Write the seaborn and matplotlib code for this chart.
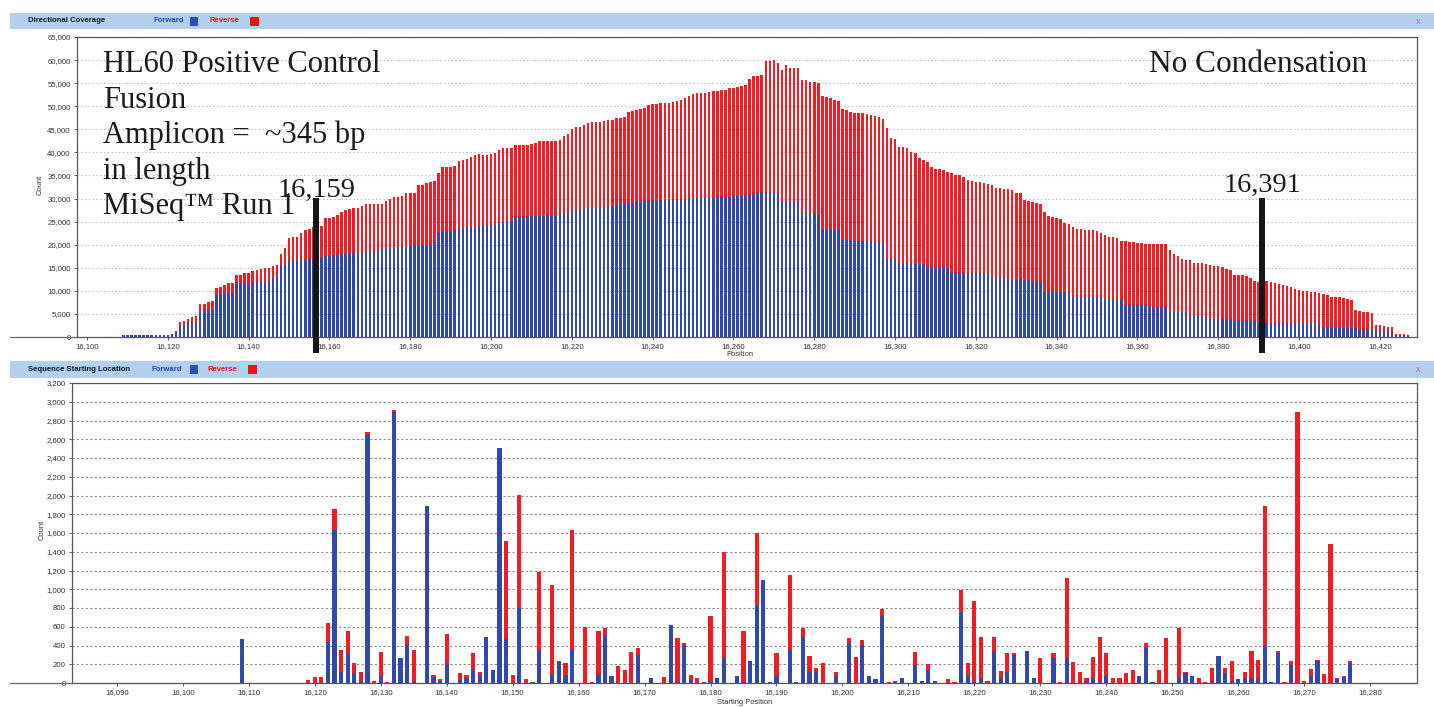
import matplotlib
matplotlib.use("Agg")
import matplotlib.pyplot as plt
from matplotlib.patches import Rectangle
from matplotlib.lines import Line2D
import pandas as pd
import seaborn as sns

# ---------------------------------------------------------------------------
# Directional coverage: counts (thousands) per position, 16,109 .. 16,427
# ---------------------------------------------------------------------------
cov_start = 16109
cov_total_k = [
    0.35, 0.40, 0.40, 0.45, 0.40, 0.40, 0.45, 0.40, 0.40, 0.35, 0.40, 0.45, 0.60,
    1.3, 3.3, 3.5, 4.0, 4.3, 4.5, 7.1, 7.1, 7.6, 7.7,
    10.7, 10.8, 11.3, 11.6, 11.6, 13.4, 13.5, 13.8, 13.9, 14.3,
    14.5, 14.7, 14.9, 15.0, 15.3, 15.7, 18.0, 19.2, 21.4, 21.6,
    21.6, 22.6, 23.2, 23.4, 23.9, 24.0, 24.0, 25.7, 25.7, 26.1,
    26.4, 27.1, 27.5, 27.7, 27.9, 27.9, 28.4, 28.8, 28.8, 28.8,
    28.8, 28.9, 29.5, 30.0, 30.4, 30.4, 30.5, 31.1, 31.1, 31.2,
    32.9, 33.0, 33.4, 33.6, 33.8, 35.5, 36.8, 36.9, 36.9, 37.0,
    38.2, 38.3, 38.5, 38.9, 39.4, 39.6, 39.4, 39.4, 39.6, 39.9,
    40.6, 40.9, 41.0, 41.0, 41.6, 41.6, 41.6, 41.6, 41.9, 42.1,
    42.5, 42.5, 42.5, 42.5, 42.5, 42.7, 43.5, 44.0, 45.0, 45.4,
    45.5, 45.9, 46.3, 46.5, 46.6, 46.6, 46.9, 47.0, 47.1, 47.4,
    47.5, 47.7, 48.8, 48.9, 49.2, 49.4, 49.7, 50.3, 50.5, 50.5,
    50.6, 50.6, 50.8, 51.0, 51.2, 51.3, 51.7, 52.2, 52.6, 52.8,
    52.9, 52.9, 53.1, 53.2, 53.3, 53.5, 53.6, 53.9, 53.9, 54.1,
    54.4, 54.6,
    56.0, 56.6, 56.6, 56.8, 59.9, 59.9, 60.0, 59.4,
    57.8, 58.9, 58.2, 58.2, 58.2, 55.7, 55.7, 55.3, 55.3, 55.1,
    52.3, 52.1, 51.7, 51.3, 51.2, 49.3, 49.2, 48.8, 48.6, 48.6,
    48.6, 48.4, 48.1, 47.9, 47.6, 47.2, 45.2, 43.2, 43.0, 41.1,
    41.1, 40.9, 40.1, 39.8, 38.7, 38.3, 38.0, 36.8, 36.5, 36.3,
    36.2, 35.8, 35.5, 35.1, 35.0, 34.7, 34.0, 33.8, 33.6, 33.6,
    33.4, 33.1, 32.9, 32.2, 32.2, 32.1, 32.0, 31.8, 31.3, 31.2,
    29.7, 29.5, 29.3, 29.0, 28.8, 27.1, 26.2, 26.1, 25.7, 25.5,
    24.8, 24.5, 23.9, 23.4, 23.3, 23.2,
    23.2, 23.2, 23.0, 22.6, 22.1, 21.7, 21.7, 21.4, 20.9, 20.9,
    20.6, 20.6, 20.4, 20.3, 20.1, 20.1, 20.1, 20.1, 20.1, 20.1,
    18.8, 18.0, 17.5, 17.0, 16.7, 16.6, 16.1, 16.0, 16.0, 15.8,
    15.6, 15.4, 15.4, 15.1, 14.7, 14.5, 13.4, 13.4, 13.4, 13.2,
    12.7, 12.2, 12.0, 12.2, 12.2, 12.0, 11.8, 11.5, 11.3, 11.1,
    10.8, 10.5, 10.2, 10.0, 10.0, 9.8, 9.8, 9.6, 9.3, 9.1,
    8.7, 8.7, 8.7, 8.5, 8.2, 8.0, 5.8, 5.6, 5.5, 5.5,
    5.3, 2.6, 2.6, 2.4, 2.2, 2.1, 0.6, 0.6, 0.6, 0.4,
]
cov_forward_k = [
    0.30, 0.35, 0.35, 0.40, 0.35, 0.35, 0.40, 0.35, 0.35, 0.30, 0.35, 0.40, 0.50,
    1.1, 2.6, 2.7, 3.0, 3.2, 3.3, 5.6, 5.7, 5.8, 5.9,
    9.0, 9.4, 9.5, 9.5, 9.5, 11.6, 11.6, 11.7, 11.8, 11.8,
    11.9, 12.0, 12.0, 12.2, 12.5, 12.9, 15.5, 15.6, 16.5, 16.6,
    16.6, 16.8, 17.0, 17.0, 17.2, 17.3, 17.4, 17.5, 17.6, 17.7,
    17.8, 17.9, 18.0, 18.1, 18.1, 18.2, 18.3, 18.4, 18.5, 18.6,
    18.7, 18.8, 19.0, 19.2, 19.3, 19.4, 19.5, 19.6, 19.8, 19.9,
    19.9, 19.9, 19.9, 20.0, 20.6, 22.5, 23.0, 23.0, 23.0, 23.1,
    23.5, 23.7, 23.8, 23.9, 23.9, 24.0, 24.0, 24.1, 24.2, 24.3,
    25.0, 25.0, 25.1, 25.2, 26.0, 26.1, 26.1, 26.1, 26.2, 26.2,
    26.3, 26.3, 26.4, 26.4, 26.5, 26.9, 26.9, 27.0, 27.4, 27.5,
    27.6, 27.9, 27.9, 28.0, 28.0, 28.1, 28.2, 28.3, 28.4, 28.6,
    28.8, 29.0, 29.0, 29.1, 29.2, 29.3, 29.4, 29.5, 29.5, 29.5,
    29.6, 29.6, 29.7, 29.8, 30.0, 30.0, 30.0, 30.1, 30.1, 30.1,
    30.1, 30.2, 30.2, 30.2, 30.3, 30.3, 30.4, 30.4, 30.5, 30.5,
    30.6, 30.7,
    30.8, 31.0, 31.1, 31.1, 31.1, 31.2, 31.2, 31.2,
    29.3, 29.3, 29.3, 29.3, 29.2, 26.6, 26.6, 26.6, 26.6, 26.5,
    23.5, 23.5, 23.4, 23.4, 23.3, 21.0, 21.0, 21.0, 20.9, 20.9,
    20.9, 20.8, 20.8, 20.6, 20.5, 20.3, 16.8, 16.8, 16.8, 16.0,
    16.0, 16.0, 16.0, 15.9, 15.9, 15.9, 15.1, 15.1, 15.1, 15.1,
    15.1, 15.0, 13.9, 13.9, 13.9, 13.9, 13.9, 13.9, 13.9, 13.8,
    13.8, 13.8, 12.7, 12.7, 12.7, 12.7, 12.6, 12.6, 12.5, 12.5,
    12.4, 12.3, 12.2, 12.0, 12.0, 9.8, 9.8, 9.8, 9.8, 9.7,
    9.7, 9.7, 8.7, 8.7, 8.6, 8.6,
    8.7, 8.7, 8.6, 8.6, 8.0, 8.0, 8.0, 8.0, 8.0, 6.9,
    6.9, 6.9, 6.9, 6.9, 6.9, 6.4, 6.4, 6.4, 6.4, 6.4,
    5.5, 5.5, 5.5, 5.5, 5.5, 4.5, 4.5, 4.5, 4.5, 4.5,
    4.0, 4.0, 4.0, 4.0, 4.0, 4.0, 3.5, 3.5, 3.5, 3.5,
    3.5, 3.5, 3.1, 3.1, 3.1, 3.1, 3.1, 3.1, 3.1, 3.1,
    3.1, 3.1, 2.8, 2.8, 2.8, 2.8, 2.8, 2.8, 2.2, 2.2,
    2.2, 2.2, 2.2, 2.2, 2.2, 2.2, 2.2, 1.5, 1.5, 1.5,
    1.5, 1.5, 1.2, 1.2, 1.2, 1.2, 0.5, 0.5, 0.5, 0.35,
]

# ---------------------------------------------------------------------------
# Sequence starting location: read starts per position
# ---------------------------------------------------------------------------
start_pos = [
    16109, 16119, 16120, 16121, 16122, 16123, 16124, 16125, 16126, 16127,
    16128, 16129, 16130, 16131, 16132, 16133, 16134, 16135, 16137, 16138,
    16139, 16140, 16142, 16143, 16144, 16145, 16146, 16147, 16148, 16149,
    16150, 16151, 16152, 16153, 16154, 16156, 16157, 16158, 16159, 16161,
    16162, 16163, 16164, 16165, 16166, 16167, 16168, 16169, 16171, 16173,
    16174, 16175, 16176, 16177, 16178, 16179, 16180, 16181, 16182, 16183,
    16184, 16185, 16186, 16187, 16188, 16189, 16190, 16192, 16193, 16194,
    16195, 16196, 16197, 16199, 16200, 16201, 16202, 16203, 16204, 16205,
    16206, 16207, 16208, 16209, 16211, 16212, 16213, 16214, 16216, 16217,
    16218, 16219, 16220, 16221, 16222, 16223, 16224, 16225, 16226, 16227,
    16228, 16229, 16230, 16231, 16232, 16233, 16234, 16235, 16236, 16237,
    16238, 16239, 16240, 16241, 16242, 16243, 16244, 16245, 16246, 16247,
    16248, 16249, 16250, 16251, 16252, 16253, 16254, 16255, 16256, 16257,
    16258, 16259, 16260, 16261, 16262, 16263, 16264, 16265, 16266, 16267,
    16268, 16269, 16270, 16271, 16272, 16273, 16274, 16275, 16276, 16277,
    16278, 16279,
]
start_total = [
    470, 35, 65, 65, 640, 1860, 350, 560, 210, 115,
    2680, 25, 335, 10, 2915, 265, 500, 350, 1890, 85,
    40, 525, 105, 85, 325, 120, 495, 140, 2505, 1510,
    85, 2005, 40, 15, 1180, 1045, 230, 215, 1635, 595,
    10, 550, 585, 75, 180, 135, 330, 370, 55, 60,
    620, 485, 425, 85, 50, 15, 710, 50, 1395, 5,
    70, 550, 235, 1600, 1095, 15, 315, 1155, 10, 590,
    290, 165, 215, 120, 5, 475, 280, 460, 70, 40,
    785, 15, 25, 50, 335, 25, 205, 20, 40, 15,
    990, 215, 870, 495, 25, 495, 130, 315, 315, 5,
    345, 50, 265, 5, 315, 15, 1125, 225, 120, 50,
    280, 495, 325, 50, 50, 110, 140, 70, 425, 15,
    140, 475, 5, 590, 120, 70, 50, 15, 155, 290,
    165, 230, 40, 120, 340, 245, 1890, 15, 340, 15,
    230, 2895, 25, 145, 245, 95, 1485, 50, 70, 230,
    5, 5,
]
start_forward = [
    470, 0, 0, 0, 440, 1630, 120, 320, 105, 20,
    2650, 0, 70, 0, 2890, 265, 410, 25, 1890, 60,
    25, 210, 30, 50, 150, 85, 495, 140, 2505, 470,
    0, 800, 0, 15, 355, 85, 220, 85, 355, 0,
    0, 85, 515, 75, 0, 0, 0, 300, 55, 0,
    620, 15, 405, 30, 0, 15, 15, 50, 265, 5,
    70, 15, 235, 835, 1095, 15, 70, 355, 10, 495,
    120, 120, 0, 75, 0, 430, 0, 405, 70, 40,
    715, 0, 10, 50, 190, 25, 140, 20, 0, 0,
    760, 70, 15, 50, 0, 345, 50, 120, 300, 0,
    345, 50, 0, 0, 265, 0, 265, 0, 0, 20,
    50, 15, 70, 0, 0, 0, 0, 70, 370, 15,
    5, 0, 0, 50, 105, 70, 0, 0, 25, 290,
    110, 25, 40, 50, 50, 40, 405, 15, 325, 0,
    190, 0, 0, 70, 230, 0, 0, 40, 60, 215,
    0, 5,
]

cov_ticks = list(range(16100, 16421, 20))
start_ticks = list(range(16090, 16281, 10))
cov_yticks = list(range(0, 65001, 5000))
start_yticks = list(range(0, 3201, 200))

RED = "#f41c24"
BLUE = "#3049ab"
HEADER = "#b2cfee"

W, H = 1434, 707
sns.set_theme(style="white")
plt.rcParams["font.family"] = ["Liberation Sans", "DejaVu Sans"]

fig = plt.figure(figsize=(W / 100, H / 100), dpi=100)
fig.patch.set_facecolor("white")


def fx(px):
    return px / W


def fy(py):
    return 1 - py / H


def rect(x0, y0, x1, y1, color, z=5):
    fig.add_artist(Rectangle((fx(x0), fy(y1)), (x1 - x0) / W, (y1 - y0) / H,
                             transform=fig.transFigure, facecolor=color,
                             edgecolor="none", zorder=z))


def hline(x0, x1, y, color="#666666", lw=0.9):
    fig.add_artist(Line2D([fx(x0), fx(x1)], [fy(y), fy(y)],
                          transform=fig.transFigure, color=color, lw=lw, zorder=4))


# ---------------------------------------------------------------------------
# Panel headers
# ---------------------------------------------------------------------------
def header(y0, y1, title, fwd_x, fwd_sq, rev_x, rev_sq):
    rect(10, y0, W, y1, HEADER, z=1)
    yc = (y0 + y1) / 2
    fig.text(fx(28), fy(yc), title, fontsize=5.6, fontweight="bold",
             color="#101828", va="center", ha="left")
    fig.text(fx(fwd_x), fy(yc), "Forward", fontsize=5.6, fontweight="bold",
             color="#2244b0", va="center", ha="left")
    rect(fwd_sq, yc - 4.5, fwd_sq + 8, yc + 4.5, "#2a4fb8", z=6)
    fig.text(fx(rev_x), fy(yc), "Reverse", fontsize=5.6, fontweight="bold",
             color="#ee1520", va="center", ha="left")
    rect(rev_sq, yc - 4.5, rev_sq + 9, yc + 4.5, "#f21010", z=6)
    fig.text(fx(1418), fy(yc), "x", fontsize=6.5, color="#d454c4",
             va="center", ha="center")


header(13, 29, "Directional Coverage", 154, 190, 210, 250)
header(361, 378, "Sequence Starting Location", 152, 190, 208, 248)

# ---------------------------------------------------------------------------
# Axes
# ---------------------------------------------------------------------------
ax1 = fig.add_axes([fx(77), fy(337), (1417 - 77) / W, (337 - 37) / H])
ax2 = fig.add_axes([fx(72), fy(683), (1417 - 72) / W, (683 - 383) / H])

cov_pos = list(range(cov_start, cov_start + len(cov_total_k)))
cov_df = pd.DataFrame({
    "position": cov_pos,
    "total": [v * 1000 for v in cov_total_k],
    "forward": [v * 1000 for v in cov_forward_k],
})
start_df = pd.DataFrame({
    "position": start_pos,
    "total": start_total,
    "forward": start_forward,
})

for ax, df, width in ((ax1, cov_df, 0.62), (ax2, start_df, 0.64)):
    sns.barplot(data=df, x="position", y="total", native_scale=True,
                color=RED, saturation=1, width=width, errorbar=None,
                linewidth=0, ax=ax, zorder=3)
    sns.barplot(data=df, x="position", y="forward", native_scale=True,
                color=BLUE, saturation=1, width=width, errorbar=None,
                linewidth=0, ax=ax, zorder=3)

ax1.set_xlim(16097.5, 16429.2)
ax1.set_ylim(0, 65000)
ax2.set_xlim(16083.2, 16287.1)
ax2.set_ylim(0, 3200)

for ax, xt, yt, gcol, gls in (
    (ax1, cov_ticks, cov_yticks, "#b8b8b8", (0, (1.2, 2.2))),
    (ax2, start_ticks, start_yticks, "#8a8a8a", (0, (2.0, 2.0))),
):
    ax.set_xticks(xt)
    ax.set_xticklabels([f"{t:,}" for t in xt])
    ax.set_yticks(yt)
    ax.set_yticklabels([f"{t:,}" for t in yt])
    ax.set_xlabel("")
    ax.set_ylabel("")
    ax.yaxis.grid(True, color=gcol, linestyle=gls, lw=0.8, zorder=0)
    ax.xaxis.grid(False)
    ax.set_axisbelow(True)
    ax.tick_params(axis="both", labelsize=5.6, labelcolor="#333333",
                   length=2, width=0.6, color="#444444", pad=2.5,
                   bottom=True, left=True)
    for s in ax.spines.values():
        s.set_color("#555555")
        s.set_linewidth(0.9)
    ax.set_facecolor("white")

# baseline continues under the axis labels
hline(10, 77, 337)
hline(10, 72, 683)

fig.text(fx(740), fy(354), "Position", fontsize=5.4, color="#333333",
         ha="center", va="center")
fig.text(fx(745), fy(702), "Starting Position", fontsize=5.4, color="#333333",
         ha="center", va="center")
fig.text(fx(40), fy(185), "Count", fontsize=5.4, color="#333333",
         ha="center", va="center", rotation=90)
fig.text(fx(42), fy(530), "Count", fontsize=5.4, color="#333333",
         ha="center", va="center", rotation=90)

# ---------------------------------------------------------------------------
# Annotations
# ---------------------------------------------------------------------------
serif = "Liberation Serif"
notes = ["HL60 Positive Control", "Fusion", "Amplicon =  ~345 bp",
         "in length", "MiSeq\u2122 Run 1"]
for i, line in enumerate(notes):
    fig.text(fx(103), fy(72 + i * 35.6), line, fontsize=22, family=serif,
             color="#1a1a1a", ha="left", va="baseline", zorder=8)
fig.text(fx(1367), fy(72), "No Condensation", fontsize=22.5, family=serif,
         color="#1a1a1a", ha="right", va="baseline", zorder=8)

for xc, label, base in ((316, "16,159", 197), (1262, "16,391", 192)):
    rect(xc - 2.8, 198, xc + 2.8, 353, "#161616", z=9)
    fig.text(fx(xc), fy(base), label, fontsize=20.5, family=serif,
             color="#1a1a1a", ha="center", va="baseline", zorder=8)

fig.savefig("out.png", dpi=100, facecolor="white")
